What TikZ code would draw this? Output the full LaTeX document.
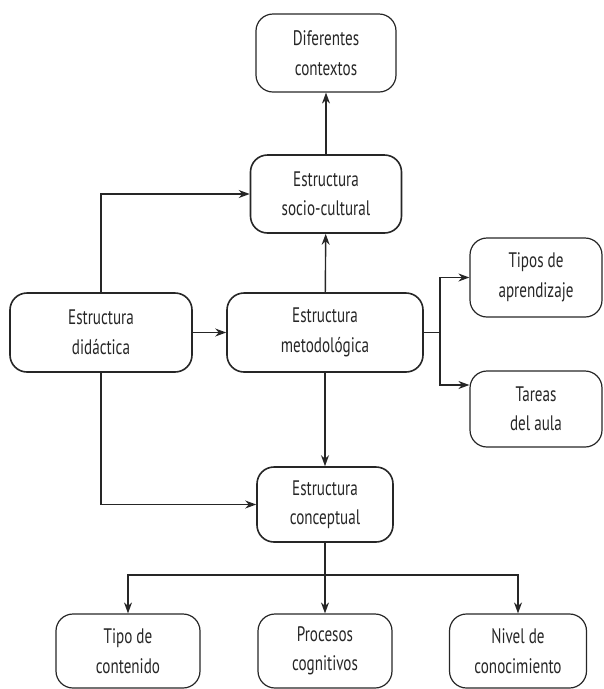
\documentclass[tikz,border=0pt]{standalone}
\usepackage{fontspec}
\setmainfont{PT Sans}[FakeStretch=0.72]
\usetikzlibrary{arrows.meta}
\begin{document}
\begin{tikzpicture}[x=1pt,y=-1pt,
  box/.style={draw=black!85, line width=1.2pt, rounded corners=17pt, align=center,
    inner sep=0pt, text=black!85, font=\fontsize{21}{29.5}\selectfont},
  mainbox/.style={box, line width=1.6pt},
  arr/.style={draw=black!85, line width=1.4pt, -{Stealth[length=11pt,width=8pt]}},
  ln/.style={draw=black!85, line width=1.4pt}]
\useasboundingbox (0,0) rectangle (604,689);
\node[box, minimum width=140pt, minimum height=78pt] (dif) at (326,53) {Diferentes\\contextos};
\node[mainbox, minimum width=151pt, minimum height=78pt] (soc) at (326,194) {Estructura\\socio-cultural};
\node[mainbox, minimum width=182pt, minimum height=79pt] (did) at (101,332.5) {Estructura\\didáctica};
\node[mainbox, minimum width=196pt, minimum height=79pt] (met) at (325,332.5) {Estructura\\metodológica};
\node[box, minimum width=132pt, minimum height=79pt] (tip) at (536,277.5) {Tipos de\\aprendizaje};
\node[box, minimum width=132pt, minimum height=76pt] (tar) at (536,409) {Tareas\\del aula};
\node[mainbox, minimum width=136pt, minimum height=75pt] (con) at (325,504.5) {Estructura\\conceptual};
\node[box, minimum width=144pt, minimum height=74pt] (tc) at (128,651) {Tipo de\\contenido};
\node[box, minimum width=134pt, minimum height=74pt] (pc) at (325,651) {Procesos\\cognitivos};
\node[box, minimum width=137pt, minimum height=74pt] (nc) at (518,651) {Nivel de\\conocimiento};

\coordinate (jm) at (440,332.5);
\coordinate (jt) at (440,385);
\coordinate (jc) at (325,575);
\coordinate (ta) at (tar.west |- jt);

\draw[arr] (soc) -- (dif);
\draw[arr] (met) -- (soc);
\draw[arr] (did.north) |- (soc.west);
\draw[arr] (did) -- (met);
\draw[arr] (did.south) |- (con.west);
\draw[arr] (met) -- (con);
\draw[ln] (met.east) -- (jm);
\draw[arr] (jm) |- (tip.west);
\draw[arr] (jm) |- (ta);
\draw[arr] (con) -- (pc);
\draw[arr] (jc) -| (tc.north);
\draw[arr] (jc) -| (nc.north);
\end{tikzpicture}
\end{document}
